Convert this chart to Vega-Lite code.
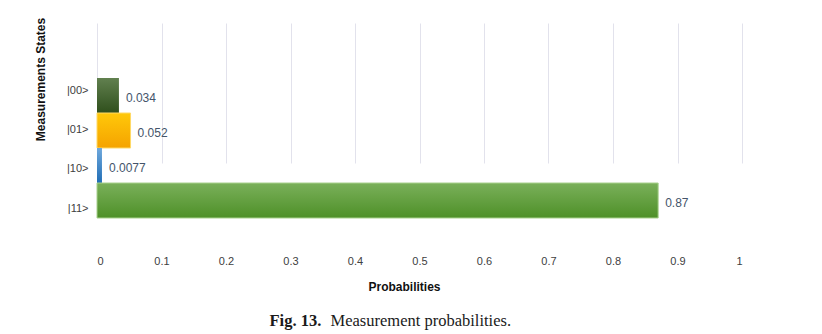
{
  "$schema": "https://vega.github.io/schema/vega-lite/v6.json",
  "width": 645,
  "height": 241,
  "autosize": {"type": "none"},
  "padding": {"left": 97, "top": 0, "right": 80, "bottom": 93},
  "background": "white",
  "config": {"view": {"stroke": null}},
  "data": {
    "values": [
      {"state": "|00>", "p": 0.034, "label": "0.034"},
      {"state": "|01>", "p": 0.052, "label": "0.052"},
      {"state": "|10>", "p": 0.0077, "label": "0.0077"},
      {"state": "|11>", "p": 0.87, "label": "0.87"}
    ]
  },
  "layer": [
    {
      "encoding": {
        "y": {
          "field": "state", "type": "nominal",
          "scale": {"domain": ["|00>", "|01>", "|10>", "|11>"], "paddingInner": 0, "paddingOuter": 0, "range": [78, 218]},
          "axis": {
            "orient": "left", "labels": false, "ticks": false, "domain": false, "grid": false,
            "title": "Measurement probabilities.", "titleAngle": 0, "titleX": 233, "titleY": 320,
            "titleAlign": "left", "titleBaseline": "middle", "titleFont": "Liberation Serif",
            "titleFontSize": 16.5, "titleFontWeight": "normal", "titleColor": "#1a1a1a"
          }
        },
        "x": {
          "field": "p", "type": "quantitative",
          "scale": {"domain": [0, 1], "nice": false},
          "axis": {
            "values": [0, 0.1, 0.2, 0.3, 0.4, 0.5, 0.6, 0.7, 0.8, 0.9, 1],
            "format": "~g", "grid": true, "gridColor": "#E2E2EC", "gridWidth": 1,
            "ticks": false, "tickSize": 0, "domain": false,
            "labelFont": "Liberation Sans", "labelFontSize": 11, "labelColor": "#404040",
            "labelPadding": 14,
            "title": "Probabilities", "titleX": 307, "titleY": 45, "titleAlign": "center",
            "titleBaseline": "middle", "titleFont": "Liberation Sans", "titleFontSize": 12,
            "titleFontWeight": "bold", "titleColor": "#111111"
          }
        }
      },
      "layer": [
        {
          "transform": [{"filter": "datum.state === '|00>'"}],
          "mark": {"type": "bar", "color": {"gradient": "linear", "x1": 0, "y1": 0, "x2": 0, "y2": 1,
            "stops": [{"offset": 0, "color": "#61804F"}, {"offset": 1, "color": "#2F4F1C"}]}}
        },
        {
          "transform": [{"filter": "datum.state === '|01>'"}],
          "mark": {"type": "bar", "stroke": "#FFD966", "strokeWidth": 1, "color": {"gradient": "linear", "x1": 0, "y1": 0, "x2": 0, "y2": 1,
            "stops": [{"offset": 0, "color": "#FFC80A"}, {"offset": 1, "color": "#F5A300"}]}}
        },
        {
          "transform": [{"filter": "datum.state === '|10>'"}],
          "mark": {"type": "bar", "color": {"gradient": "linear", "x1": 0, "y1": 0, "x2": 0, "y2": 1,
            "stops": [{"offset": 0, "color": "#6FA8DC"}, {"offset": 1, "color": "#1F6DB5"}]}}
        },
        {
          "transform": [{"filter": "datum.state === '|11>'"}],
          "mark": {"type": "bar", "stroke": "#A9D18E", "strokeWidth": 1, "color": {"gradient": "linear", "x1": 0, "y1": 0, "x2": 0, "y2": 1,
            "stops": [{"offset": 0, "color": "#7AB05A"}, {"offset": 1, "color": "#4E9028"}]}}
        },
        {
          "mark": {"type": "text", "align": "left", "baseline": "middle", "dx": 7, "dy": 2,
            "font": "Liberation Sans", "fontSize": 12, "color": "#44546A"},
          "encoding": {"text": {"field": "label"}}
        }
      ]
    },
    {
      "mark": {"type": "point", "opacity": 0},
      "encoding": {
        "y": {
          "field": "state", "type": "ordinal",
          "scale": {"type": "point", "domain": ["|00>", "|01>", "|10>", "|11>"], "padding": 0, "range": [90, 208]},
          "axis": {
            "orient": "left", "ticks": false, "tickSize": 0, "domain": false, "grid": false,
            "labelFont": "Liberation Sans", "labelFontSize": 11, "labelColor": "#404040", "labelPadding": 9,
            "title": "Measurements States", "titleX": -57, "titleY": 79, "titleAngle": -90,
            "titleAlign": "center", "titleBaseline": "middle", "titleFont": "Liberation Sans",
            "titleFontSize": 12, "titleFontWeight": "bold", "titleColor": "#111111"
          }
        },
        "x": {
          "field": "p", "type": "quantitative",
          "scale": {"domain": [0, 1], "nice": false},
          "axis": {
            "orient": "bottom", "labels": false, "ticks": false, "domain": false, "grid": false,
            "title": "Fig. 13.", "titleX": 172, "titleY": 79, "titleAlign": "left", "titleBaseline": "middle",
            "titleFont": "Liberation Serif", "titleFontSize": 16.5, "titleFontWeight": "bold", "titleColor": "#1a1a1a"
          }
        }
      }
    }
  ],
  "resolve": {"scale": {"x": "independent", "y": "independent"}, "axis": {"x": "independent", "y": "independent"}}
}
